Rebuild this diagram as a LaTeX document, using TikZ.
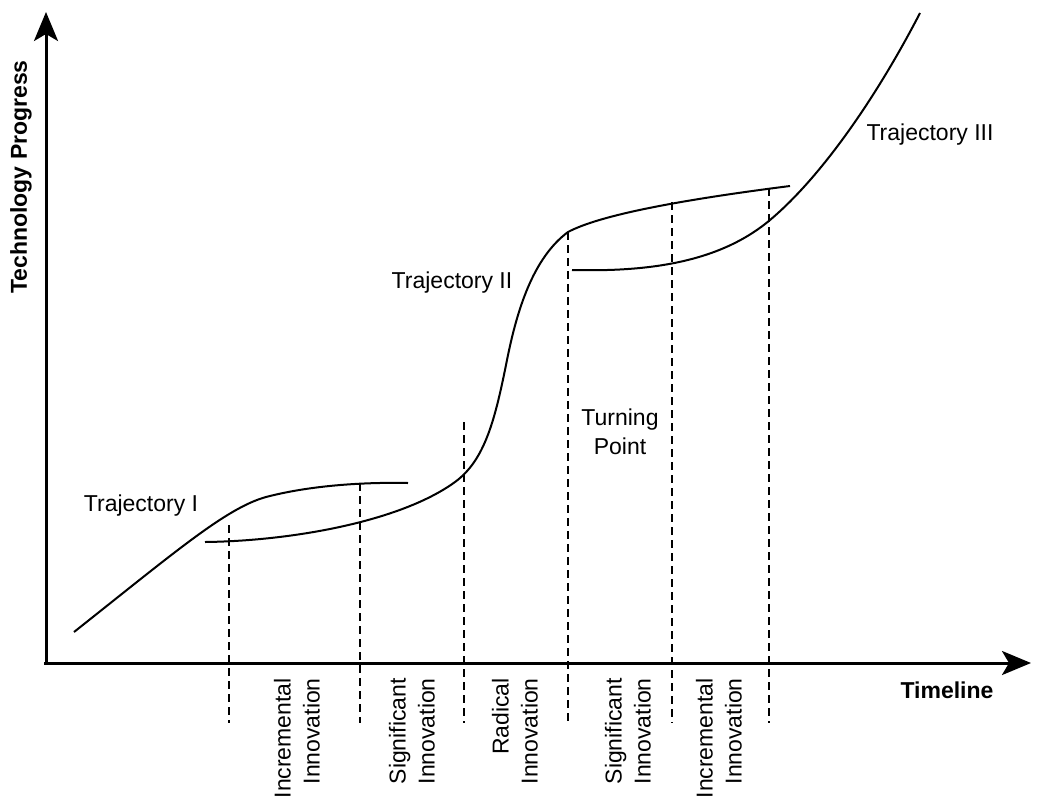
\documentclass[tikz,border=0pt]{standalone}
\usepackage{fontspec}
\setmainfont{Liberation Sans}
\usetikzlibrary{arrows.meta}
\begin{document}
\begin{tikzpicture}[x=1pt,y=-1pt,
  axis/.style={line width=3pt,-{Stealth[length=29pt,width=24pt,inset=7pt]}},
  curve/.style={line width=2pt},
  guide/.style={line width=1.5pt,dash pattern=on 8pt off 5pt},
  lbl/.style={font=\fontsize{23}{29}\selectfont,inner sep=0pt},
  vlbl/.style={lbl,rotate=90,anchor=east,align=right},
  bold/.style={lbl,font=\fontsize{23}{29}\selectfont\bfseries}]
\useasboundingbox (0,0) rectangle (1043,798);
\fill[white] (0,0) rectangle (1043,798);

% axes
\coordinate (o) at (46,665);
\coordinate (ytip) at (46,12);
\coordinate (xo) at (44,663);
\coordinate (xtip) at (1031,663);
\draw[axis] (o) -- (ytip);
\draw[axis] (xo) -- (xtip);
\node[bold,rotate=90] (ylab) at (21,177) {Technology Progress};
\node[bold] (xlab) at (947,690) {Timeline};

% trajectory I
\draw[curve] (74,632) .. controls (180,548) and (230,505) .. (270,496)
  .. controls (310,486) and (360,482) .. (408,483);
% trajectory II
\draw[curve] (205,542) .. controls (290,541) and (400,522) .. (455,482)
  .. controls (485,460) and (495,420) .. (507,360)
  .. controls (517,310) and (533,258) .. (568,232)
  .. controls (600,215) and (680,200) .. (790,186);
% trajectory III
\draw[curve] (572,270) .. controls (650,272) and (720,262) .. (770,220)
  .. controls (820,178) and (875,100) .. (920,13);

% phase boundaries
\foreach \n/\x/\t in {a/229/525, b/360/483, c/464/422, d/568/232, e/672/202, f/769/188}{
  \coordinate (\n top) at (\x,\t);
  \coordinate (\n bot) at (\x,723);
  \draw[guide] (\n top) -- (\n bot);
}

% labels
\node[lbl] (t1) at (141,506) {Trajectory I};
\node[lbl] (t2) at (452,283) {Trajectory II};
\node[lbl] (t3) at (930,135) {Trajectory III};
\node[lbl,align=center] (tp) at (620,432) {Turning\\Point};

\node[vlbl] (p1) at (297,678) {Incremental\\Innovation};
\node[vlbl] (p2) at (412,678) {Significant\\Innovation};
\node[vlbl] (p3) at (515,678) {Radical\\Innovation};
\node[vlbl] (p4) at (628,678) {Significant\\Innovation};
\node[vlbl] (p5) at (719,678) {Incremental\\Innovation};
\end{tikzpicture}
\end{document}
